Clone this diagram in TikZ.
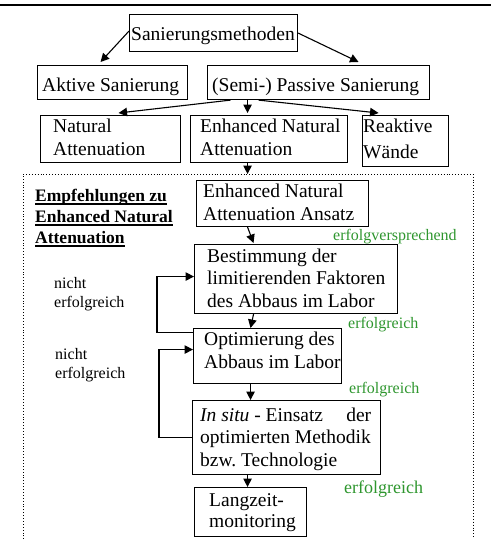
\documentclass[tikz,border=0pt]{standalone}
\usepackage{fontspec}
\setmainfont{Liberation Serif}
\usetikzlibrary{arrows.meta}
\definecolor{okgreen}{RGB}{46,150,46}
\newcommand\mainsz{\fontsize{19.5}{22.8}\selectfont}
\newcommand\smallsz{\fontsize{16}{19}\selectfont}
\newcommand\myul[1]{\setbox0\hbox{#1}\rlap{\rule[-3.3pt]{\wd0}{1.2pt}}\box0}
\frenchspacing
\tikzset{
  box/.style={draw, line width=1.1pt, rectangle, inner sep=0pt, anchor=north west},
  txt/.style={inner sep=0pt, anchor=base west, align=left, font=\mainsz},
  note/.style={inner sep=0pt, anchor=base west, align=left, font=\smallsz},
  okay/.style={inner sep=0pt, anchor=base west, font=\smallsz, text=okgreen},
  arr/.style={line width=1.1pt, -{Triangle[length=8.5pt,width=8.5pt]}},
}
\begin{document}
\begin{tikzpicture}[x=1pt,y=-1pt]
\useasboundingbox (0,0) rectangle (491,539);
\draw[line width=2pt] (0,5) -- (491,5);
% boxes
\node[box, minimum width=168pt, minimum height=37pt] (top) at (129,14) {};
\node[box, minimum width=150pt, minimum height=34pt] (akt) at (37,65) {};
\node[box, minimum width=222pt, minimum height=34pt] (pas) at (207,65) {};
\node[box, minimum width=140pt, minimum height=47pt] (nat) at (40,115) {};
\node[box, minimum width=157pt, minimum height=47pt] (ena) at (190,115) {};
\node[box, minimum width=86pt, minimum height=51pt] (rea) at (362,115) {};
\node[box, minimum width=172pt, minimum height=46pt] (ans) at (196,180) {};
\node[box, minimum width=203pt, minimum height=69pt] (bes) at (194,244) {};
\node[box, minimum width=148pt, minimum height=55pt] (opt) at (193,328) {};
\node[box, minimum width=188pt, minimum height=74pt] (ins) at (192,400) {};
\node[box, minimum width=112pt, minimum height=49pt] (lan) at (194,487) {};
% dotted frame
\draw[dotted, line width=0.9pt] (23,545) -- (23,174) -- (473,174) -- (473,545);
% texts (anchor = baseline of last line)
\node[txt] (ttop) at (131,40) {Sanierungsmethoden};
\node[txt] (takt) at (42,91.5) {Aktive Sanierung};
\node[txt] (tpas) at (212,91.5) {(Semi-) Passive Sanierung};
\node[txt] (tnat) at (53,155) {Natural\\Attenuation};
\node[txt] (tena) at (200,155) {Enhanced Natural\\Attenuation};
\node[txt, font=\fontsize{19.5}{26}\selectfont] (trea) at (363,158) {Reaktive\\Wände};
\node[txt] (tans) at (203,220) {Enhanced Natural\\Attenuation Ansatz};
\node[txt] (tbes) at (207,307.7) {Bestimmung der\\limitierenden Faktoren\\des Abbaus im Labor};
\node[txt] (topt) at (204,368.3) {Optimierung des\\Abbaus im Labor};
\node[txt] (tins) at (200,466.7) {\hbox to 171pt{\textit{In situ} - Einsatz\hfill der}\\optimierten Methodik\\bzw. Technologie};
\node[txt, font=\fontsize{19.5}{20.5}\selectfont] (tlan) at (209,527) {Langzeit-\\monitoring};
\node[txt, font=\fontsize{17.5}{21}\selectfont\bfseries] (head) at (35,243.3) {\myul{Empfehlungen zu}\\\myul{Enhanced Natural}\\\myul{Attenuation}};
\node[note] (ne1) at (54,307) {nicht\\erfolgreich};
\node[note] (ne2) at (55,378.5) {nicht\\erfolgreich};
\node[okay] (g0) at (333,240) {erfolgversprechend};
\node[okay] (g1) at (348,328.3) {erfolgreich};
\node[okay] (g2) at (349,393.3) {erfolgreich};
\node[okay, font=\fontsize{18}{20}\selectfont] (g3) at (344,493.3) {erfolgreich};
% connectors
\draw[arr] ([yshift=2pt]top.west) -- ([xshift=-12pt,yshift=3pt]akt.north);
\draw[arr] ([yshift=0pt]top.east) -- ([xshift=40pt,yshift=3pt]pas.north);
\draw[arr] ([xshift=-88pt]pas.south) -- ([xshift=8pt,yshift=2pt]nat.north);
\draw[arr] ([xshift=-71pt]pas.south) -- ([xshift=-21.5pt,yshift=2pt]ena.north);
\draw[arr] ([xshift=-60pt]pas.south) -- ([xshift=-27pt,yshift=2pt]rea.north);
\draw[arr] ([xshift=-21.5pt]ena.south) -- ([xshift=-35pt,yshift=6pt]ans.north);
\draw[arr] ([xshift=-35pt]ans.south) -- ([xshift=-42.5pt,yshift=1pt]bes.north);
\draw[arr] ([xshift=-42.5pt]bes.south) -- ([xshift=-17pt]opt.north);
\draw[arr] ([xshift=-17pt]opt.south) -- ([xshift=-36pt]ins.north);
\draw[arr] ([xshift=-39pt]ins.south) -- ([xshift=-3pt]lan.north);
\draw[arr] ([yshift=23.5pt]opt.west) -- ++(-36pt,0) |- ([yshift=2.5pt]bes.west);
\draw[arr] ([yshift=0pt]ins.west) -- ++(-33pt,0) |- ([yshift=6.5pt]opt.west);
\end{tikzpicture}
\end{document}
